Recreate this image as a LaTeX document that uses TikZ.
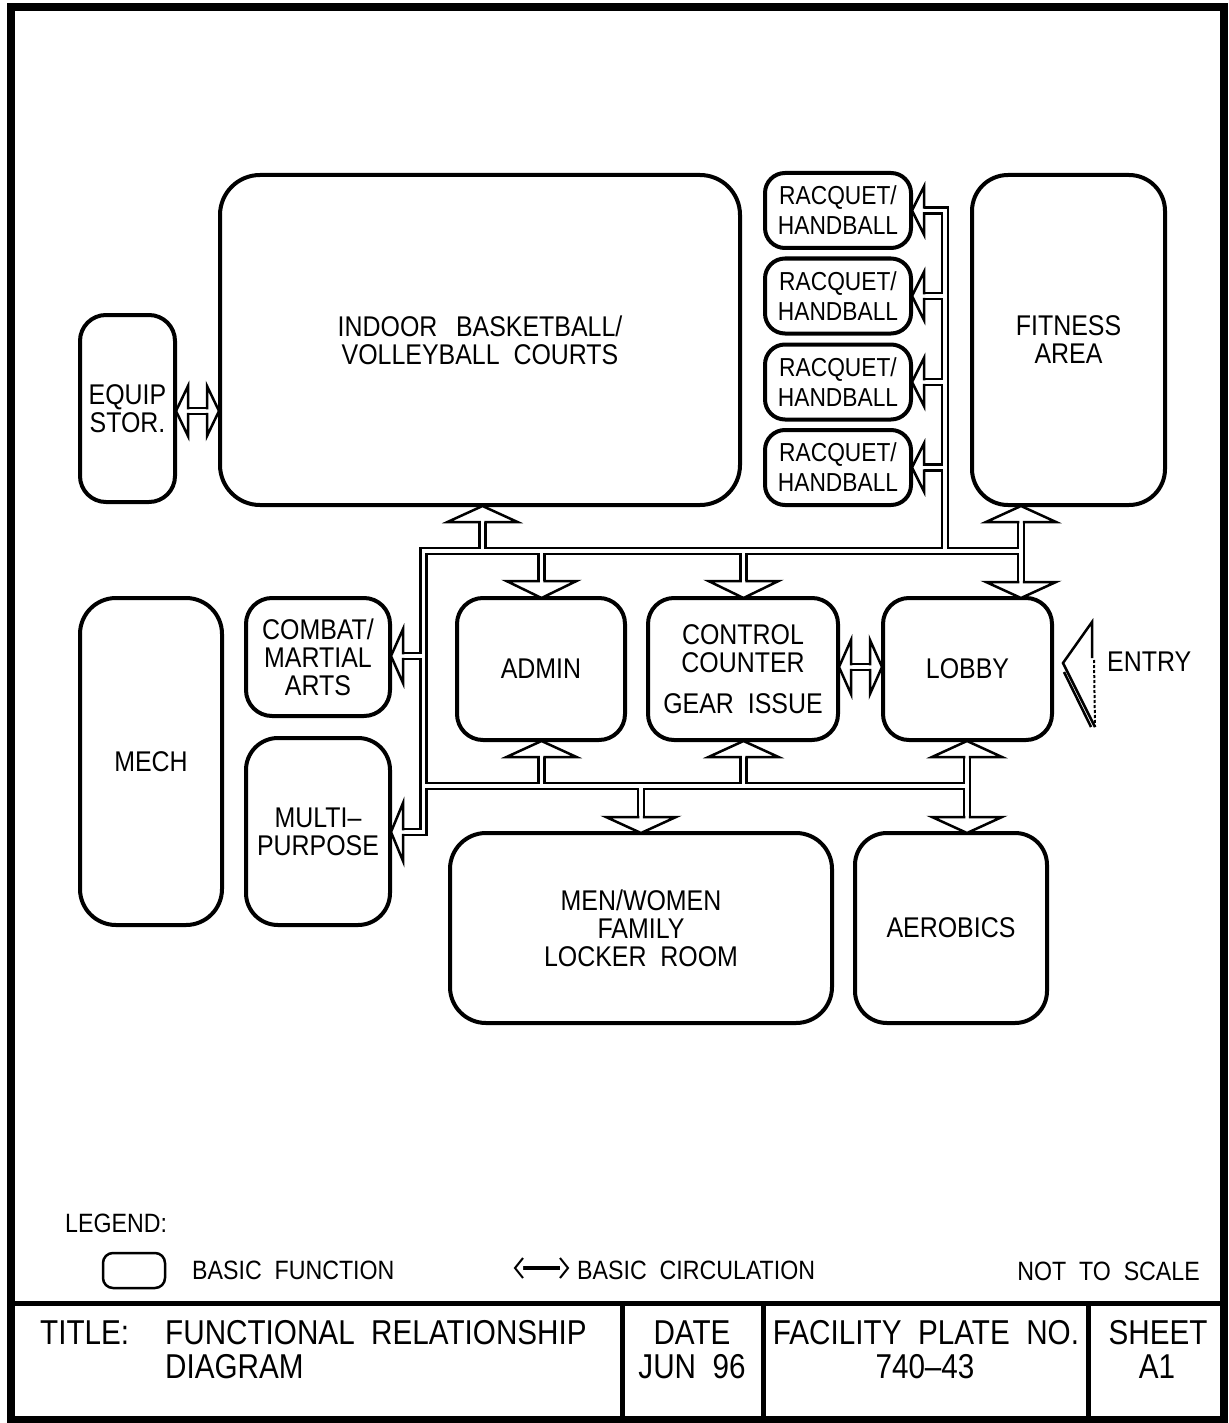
\documentclass[tikz,border=0pt]{standalone}
\usepackage{fontspec}
\setmainfont{Liberation Sans}
\newfontfamily\cadf[FakeStretch=0.875]{Liberation Sans}
\newfontfamily\cadtf[FakeStretch=0.86]{Liberation Sans}
\newcommand\mainf{\cadf\fontsize{28.5}{28}\selectfont}
\newcommand\rqf{\cadf\fontsize{26}{30}\selectfont}
\newcommand\legf{\cadf\fontsize{26.5}{28}\selectfont}
\newcommand\titf{\cadtf\fontsize{34.5}{34}\selectfont}
\tikzset{
  box/.style={draw, line width=4pt, rounded corners=#1, inner sep=0pt, align=center, font=\mainf},
  box/.default=28pt,
  rqbox/.style={box=20pt, font=\rqf, minimum width=146pt, minimum height=75pt},
  cblack/.style={line width=8.5pt, line join=miter, line cap=butt, draw=black},
  cwhite/.style={line width=3.5pt, line join=miter, line cap=butt, draw=white},
  headline/.style={line width=2.5pt, line join=miter, line cap=rect},
  frame/.style={line width=8pt},
  rule/.style={line width=5pt},
  titl/.style={font=\titf, inner sep=0pt},
  legl/.style={font=\legf, inner sep=0pt},
}
% vertical arrow head: x, base y, tip y
\newcommand\vhead[3]{%
  \fill[white] (#1-35,#2) -- (#1,#3) -- (#1+35,#2) -- cycle;
  \draw[headline] (#1-3,#2) -- (#1-35,#2) -- (#1,#3) -- (#1+35,#2) -- (#1+3,#2);
}
% horizontal arrow head: base x, tip x, y, half height
\newcommand\hhead[4]{%
  \fill[white] (#1,#3-#4) -- (#2,#3) -- (#1,#3+#4) -- cycle;
  \draw[headline] (#1,#3-3) -- (#1,#3-#4) -- (#2,#3) -- (#1,#3+#4) -- (#1,#3+3);
}
\newcommand\netpath{
  (403,832) -- (423.5,832) -- (423.5,551) -- (1021,551)
  (1021,522) -- (1021,582)
  (423.5,656) -- (403,656)
  (482.5,551) -- (482.5,522)
  (541.5,551) -- (541.5,581)
  (743.5,551) -- (743.5,581)
  (924,210.5) -- (945,210.5) -- (945,551)
  (945,296) -- (924,296)
  (945,382) -- (924,382)
  (945,467.5) -- (924,467.5)
  (423.5,786) -- (967,786)
  (967,757) -- (967,817)
  (541.5,786) -- (541.5,757)
  (743.5,786) -- (743.5,757)
  (641,786) -- (641,817)
  (188,411) -- (207,411)
  (851,667) -- (870,667)
}
\begin{document}
\begin{tikzpicture}[x=1pt,y=-1pt]
\useasboundingbox (0,0) rectangle (1228,1423);
\fill[white] (0,0) rectangle (1228,1423);

% boxes
\node[box=40pt, minimum width=520pt, minimum height=330pt] (bb) at (480,340)
  {INDOOR\ \ \,BASKETBALL/\\VOLLEYBALL\ \ COURTS};
\node[box=26pt, minimum width=95pt, minimum height=187pt] (equip) at (127.5,408.5)
  {EQUIP\\STOR.};
\node[rqbox] (rq1) at (838,210.5) {RACQUET/\\HANDBALL};
\node[rqbox] (rq2) at (838,296) {RACQUET/\\HANDBALL};
\node[rqbox] (rq3) at (838,382) {RACQUET/\\HANDBALL};
\node[rqbox] (rq4) at (838,467.5) {RACQUET/\\HANDBALL};
\node[box=36pt, minimum width=193pt, minimum height=330pt] (fit) at (1068.5,340)
  {FITNESS\\AREA};
\node[box=36pt, minimum width=142pt, minimum height=327pt] (mech) at (151,761.5) {MECH};
\node[box=26pt, minimum width=144pt, minimum height=118pt] (combat) at (318,657)
  {COMBAT/\\MARTIAL\\ARTS};
\node[box=32pt, minimum width=144pt, minimum height=187pt] (multi) at (318,831.5)
  {MULTI\textendash\\PURPOSE};
\node[box=26pt, minimum width=168pt, minimum height=142pt] (admin) at (541,669) {ADMIN};
\node[box=26pt, minimum width=190pt, minimum height=142pt] (control) at (743,669)
  {CONTROL\\COUNTER\\[13pt]GEAR\ \ ISSUE};
\node[box=26pt, minimum width=169pt, minimum height=142pt] (lobby) at (967.5,669) {LOBBY};
\node[box=36pt, minimum width=382pt, minimum height=190pt] (locker) at (641,928)
  {MEN/WOMEN\\FAMILY\\LOCKER\ \ ROOM};
\node[box=32pt, minimum width=192pt, minimum height=190pt] (aero) at (951,928) {AEROBICS};

% circulation corridors
\draw[cblack] \netpath;
\draw[cwhite] \netpath;

% arrow heads
\vhead{482.5}{522}{506}
\vhead{541.5}{581}{598}
\vhead{743.5}{581}{598}
\vhead{1021}{582}{598}
\vhead{1021}{522}{506}
\vhead{541.5}{757}{741}
\vhead{743.5}{757}{741}
\vhead{967}{757}{741}
\vhead{967}{817}{833}
\vhead{641}{817}{833}
\hhead{403}{391}{656}{27}
\hhead{403}{391}{832}{29}
\hhead{924}{912}{210.5}{24}
\hhead{924}{912}{296}{24}
\hhead{924}{912}{382}{24}
\hhead{924}{912}{467.5}{24}
\hhead{188}{176}{411}{25}
\hhead{207}{219}{411}{25}
\hhead{851}{839}{667}{27}
\hhead{870}{882}{667}{27}

% entry
\draw[line width=2.5pt, line join=miter] (1092,658) -- (1092,622) -- (1063,663) -- (1095,727);
\draw[line width=2.5pt] (1064,672) -- (1091,727);
\draw[line width=2pt, dash pattern=on 3pt off 2pt] (1094,660) -- (1095,727);
\node[font=\mainf, anchor=west, inner sep=0pt] (entry) at (1107,662) {ENTRY};

% legend
\node[legl, anchor=base west] (legend) at (65,1232) {LEGEND:};
\node[draw, line width=2.5pt, rounded corners=10pt, minimum width=62pt, minimum height=35pt, inner sep=0pt] (legbox) at (134,1270.5) {};
\node[legl, anchor=base west] (legfun) at (192,1279) {BASIC\ \ FUNCTION};
\draw[line width=4pt] (522,1268) -- (561,1268);
\fill[white] (523,1258) -- (515,1268) -- (523,1278) -- cycle;
\draw[line width=2pt, line join=miter] (523,1258) -- (515,1268) -- (523,1278);
\fill[white] (560,1258) -- (568,1268) -- (560,1278) -- cycle;
\draw[line width=2pt, line join=miter] (560,1258) -- (568,1268) -- (560,1278);
\node[legl, anchor=base west] (legcirc) at (577,1279) {BASIC\ \ CIRCULATION};
\node[legl, anchor=base east] (scale) at (1200,1280) {NOT\ \ TO\ \ SCALE};

% frame and title block
\draw[frame] (10.5,7.5) rectangle (1224,1419.5);
\draw[rule] (10,1303) -- (1224,1303);
\draw[rule] (622,1303) -- (622,1419);
\draw[rule] (763,1303) -- (763,1419);
\draw[rule] (1088,1303) -- (1088,1419);
\node[titl, anchor=base west] (ttl) at (40,1344) {TITLE:};
\node[titl, anchor=base west] (ttl1) at (165,1344) {FUNCTIONAL\ \ RELATIONSHIP};
\node[titl, anchor=base west] (ttl2) at (165,1378) {DIAGRAM};
\node[titl, anchor=base] (date) at (692,1344) {DATE};
\node[titl, anchor=base] (dateval) at (692,1378) {JUN\ \ 96};
\node[titl, anchor=base] (plate) at (926,1344) {FACILITY\ \ PLATE\ \ NO.};
\node[titl, anchor=base] (plateval) at (925,1378) {740\textendash43};
\node[titl, anchor=base] (sheet) at (1158,1344) {SHEET};
\node[titl, anchor=base] (sheetval) at (1157,1378) {A1};
\end{tikzpicture}
\end{document}
